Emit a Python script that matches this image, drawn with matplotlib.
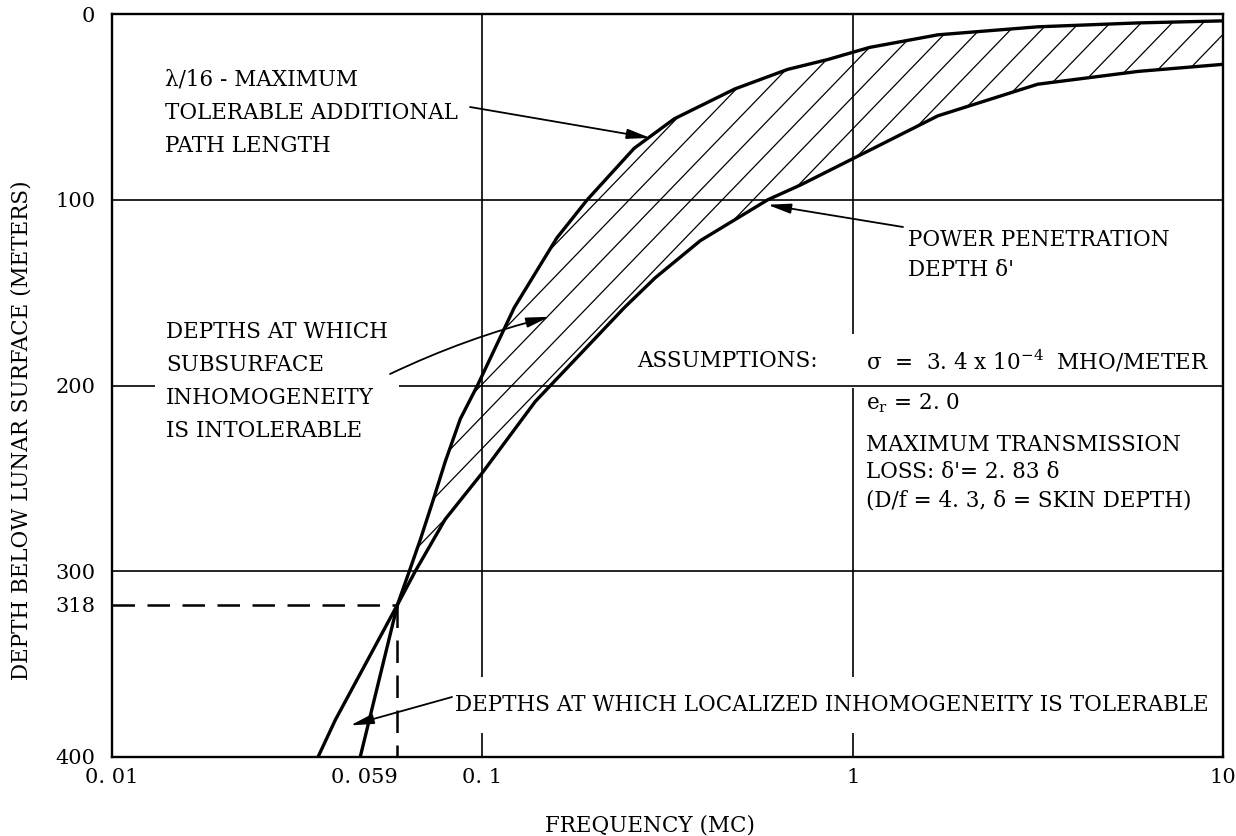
import numpy as np
import matplotlib
matplotlib.use("Agg")
import matplotlib.pyplot as plt
from matplotlib.collections import LineCollection

# lambda/16 curve: frequency (MC) and depth (m)
lam_freq = [0.0468, 0.059, 0.0635, 0.068, 0.0733, 0.0794, 0.0872, 0.097,
            0.122, 0.159, 0.192, 0.257, 0.33, 0.48, 0.668, 0.857, 1.11,
            1.70, 3.16, 5.9, 10.0]
lam_depth = [400, 318, 300, 283, 263, 241, 218, 200,
             158, 120.5, 100, 72.3, 56.4, 40.4, 29.8, 24.5, 18,
             11.2, 6.9, 4.8, 3.7]

# power penetration depth delta'
pen_freq = [0.036, 0.0401, 0.059, 0.0659, 0.0794, 0.1, 0.139, 0.242,
            0.293, 0.388, 0.59, 0.724, 1.11, 1.70, 3.16, 5.9, 10.0]
pen_depth = [400, 380, 318, 300, 272, 247, 208.6, 158,
             142, 122, 100, 92, 73.4, 54.8, 37.8, 30.9, 27.1]

cross_freq = 0.059
cross_depth = 318

x_ticks = [0.01, 0.059, 0.1, 1, 10]
x_tick_labels = ['0. 01', '0. 059', '0. 1', '1', '10']
y_ticks = [0, 100, 200, 300, 318, 400]
y_tick_labels = ['0', '100', '200', '300', '318', '400']
grid_freqs = [0.1, 1]
grid_depths = [100, 200, 300]

W, H = 1236, 836
FS = 15.5


def fxy(px, py):
    # pixel position in the picture -> figure fraction
    return (px / W, 1 - py / H)


def main():
    plt.rcParams['font.family'] = ['DejaVu Serif']
    plt.rcParams['mathtext.fontset'] = 'dejavuserif'

    fig = plt.figure(figsize=(W / 100, H / 100), dpi=100)
    ax = fig.add_axes([112 / W, 79 / H, 1111 / W, 743 / H])
    ax.set_xscale('log')
    ax.set_xlim(0.01, 10)
    ax.set_ylim(400, 0)

    def label(px, py, s, z=3, **kw):
        return ax.text(*fxy(px, py), s, transform=fig.transFigure,
                       fontsize=FS, zorder=z, **kw)

    for f in grid_freqs:
        ax.axvline(f, color='black', lw=1.2, zorder=1)
    for d in grid_depths:
        ax.axhline(d, color='black', lw=1.2, zorder=2)

    # dashed guides to the crossing point
    ax.plot([0.01, cross_freq], [cross_depth, cross_depth], color='black',
            lw=1.8, dashes=(9, 5), zorder=2.3)
    ax.plot([cross_freq, cross_freq], [cross_depth, 400], color='black',
            lw=1.8, dashes=(9, 5), zorder=2.3)

    # hatched band between the two curves above the crossing
    i_lam = lam_freq.index(cross_freq)
    i_pen = pen_freq.index(cross_freq)
    poly_f = lam_freq[i_lam:] + pen_freq[i_pen:][::-1]
    poly_d = lam_depth[i_lam:] + pen_depth[i_pen:][::-1]
    region = ax.fill(poly_f, poly_d, facecolor='none', edgecolor='none')[0]

    k = np.tan(np.radians(46)) * 1111 / 743
    step = 31 / 1111
    segs = [[(x0, 0), (x0 + 1 / k, 1)] for x0 in np.arange(-0.8, 1.0, step)]
    lc = LineCollection(segs, colors='black', linewidths=0.9,
                        transform=ax.transAxes, zorder=3)
    ax.add_collection(lc, autolim=False)
    lc.set_clip_path(region)

    ax.plot(lam_freq, lam_depth, color='black', lw=2.4, zorder=4)
    ax.plot(pen_freq, pen_depth, color='black', lw=2.4, zorder=4)

    for s in ax.spines.values():
        s.set_linewidth(1.7)
        s.set_zorder(5)

    ax.set_xticks(x_ticks)
    ax.set_xticklabels(x_tick_labels)
    ax.xaxis.set_minor_locator(matplotlib.ticker.NullLocator())
    ax.set_yticks(y_ticks)
    ax.set_yticklabels(y_tick_labels)
    ax.tick_params(axis='both', length=0, labelsize=15)
    ax.tick_params(axis='y', pad=12)
    ax.tick_params(axis='x', pad=8)
    ax.get_xticklabels()[1].set_ha('right')

    ax.set_xlabel('FREQUENCY (MC)', fontsize=FS)
    ax.xaxis.set_label_coords(0.484, -0.078)
    ax.set_ylabel('DEPTH BELOW LUNAR SURFACE (METERS)', fontsize=FS)
    ax.yaxis.set_label_coords(-0.072, 0.44)

    # curve labels
    for i, line in enumerate(['λ/16 - MAXIMUM', 'TOLERABLE ADDITIONAL',
                              'PATH LENGTH']):
        label(165, 80 + 33 * i, line, va='center')
    for i, line in enumerate(['POWER PENETRATION', "DEPTH δ'"]):
        label(908, 240 + 30 * i, line, va='center')

    label(166, 321, 'DEPTHS AT WHICH\nSUBSURFACE\nINHOMOGENEITY\n'
          'IS INTOLERABLE', z=2.2, va='top', linespacing=1.65,
          bbox=dict(boxstyle='square,pad=0.5', fc='white', ec='none'))

    label(637, 361, 'ASSUMPTIONS:', va='center')
    label(866, 361, 'σ  =  3. 4 x 10$^{-4}$  MHO/METER', z=1.5,
          va='center',
          bbox=dict(boxstyle='square,pad=0.65', fc='white', ec='none'))
    label(866, 403, 'e$_\\mathregular{r}$ = 2. 0', va='center')
    for i, line in enumerate(['MAXIMUM TRANSMISSION', "LOSS: δ'= 2. 83 δ",
                              '(D/f = 4. 3, δ = SKIN DEPTH)']):
        label(866, 445 + 27.5 * i, line, va='center')

    label(455, 705, 'DEPTHS AT WHICH LOCALIZED INHOMOGENEITY IS TOLERABLE',
          z=2.2, va='center',
          bbox=dict(boxstyle='square,pad=0.8', fc='white', ec='none'))

    arrow = dict(arrowstyle='-|>,head_length=1.4,head_width=0.3',
                 color='black', lw=1.3, shrinkA=0, shrinkB=0)
    ax.annotate('', xy=(0.284, 66.7), xytext=fxy(470, 107),
                textcoords='figure fraction', arrowprops=arrow, zorder=6)
    ax.annotate('', xy=(0.589, 102.7), xytext=fxy(903, 227),
                textcoords='figure fraction', arrowprops=arrow, zorder=6)
    ax.annotate('', xy=(0.152, 163), xytext=fxy(390, 374),
                textcoords='figure fraction',
                arrowprops=dict(arrow, connectionstyle='arc3,rad=-0.05'),
                zorder=6)
    ax.annotate('', xy=(0.044, 383), xytext=fxy(452, 697),
                textcoords='figure fraction', arrowprops=arrow, zorder=6)

    fig.savefig('out.png', dpi=100)


if __name__ == "__main__":
    main()
